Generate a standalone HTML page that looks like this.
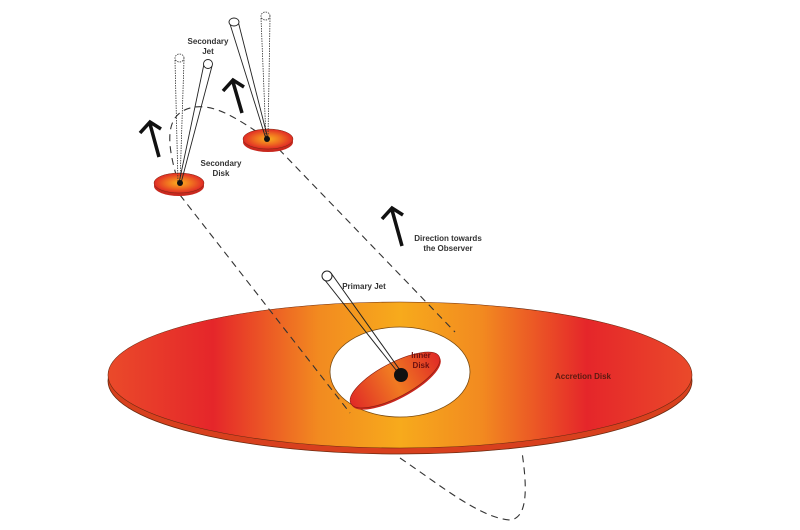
<!DOCTYPE html>
<html><head><meta charset="utf-8"><style>
body{margin:0;background:#fff}
svg{display:block}
text{font-family:"Liberation Sans",sans-serif;font-weight:bold;font-size:8px;fill:#333}
</style></head><body>
<svg width="800" height="530" viewBox="0 0 800 530" xmlns="http://www.w3.org/2000/svg">
<defs>
<linearGradient id="dg" x1="108" y1="0" x2="692" y2="0" gradientUnits="userSpaceOnUse">
<stop offset="0" stop-color="#ea4a2a"/>
<stop offset="0.18" stop-color="#e5262a"/>
<stop offset="0.36" stop-color="#f28a20"/>
<stop offset="0.5" stop-color="#f7aa1c"/>
<stop offset="0.64" stop-color="#f28a20"/>
<stop offset="0.82" stop-color="#e5262a"/>
<stop offset="1" stop-color="#ea4a2a"/>
</linearGradient>
<radialGradient id="sg" cx="0.5" cy="0.5" r="0.5">
<stop offset="0" stop-color="#f8b020"/>
<stop offset="0.5" stop-color="#f07020"/>
<stop offset="1" stop-color="#e02a26"/>
</radialGradient>
<linearGradient id="ig" x1="0" y1="0" x2="1" y2="0">
<stop offset="0" stop-color="#e02a26"/>
<stop offset="0.5" stop-color="#f07a22"/>
<stop offset="1" stop-color="#e02a26"/>
</linearGradient>
</defs>
<!-- accretion disk -->
<ellipse cx="400" cy="381" rx="292" ry="73" fill="#d8401e" stroke="#6a2a10" stroke-width="0.8"/>
<ellipse cx="400" cy="375" rx="292" ry="73" fill="url(#dg)" stroke="#6a2a10" stroke-width="0.6"/>
<ellipse cx="400" cy="372" rx="70" ry="45" fill="#fff" stroke="#7a4a10" stroke-width="0.8"/>
<!-- inner disk -->
<g transform="rotate(-28 395 380)">
<ellipse cx="395" cy="382" rx="50" ry="17" fill="#c8281e"/>
<ellipse cx="395" cy="380" rx="50" ry="17" fill="url(#ig)" stroke="#8a1a10" stroke-width="0.6"/>
</g>
<!-- orbit -->
<g fill="none" stroke="#333" stroke-width="1.1" stroke-dasharray="7,5">
<path d="M180,188 C168,150 160,112 195,107 C220,104 245,125 270,140 L455,332"/>
<path d="M180,195 L350,413"/>
<path d="M400,458 C440,485 480,518 510,520 C530,518 526,480 522,452"/>
</g>
<!-- primary jet -->
<line x1="324" y1="279" x2="400" y2="375" stroke="#222" stroke-width="1"/>
<line x1="331" y1="273" x2="402" y2="373" stroke="#222" stroke-width="1"/>
<circle cx="327" cy="276" r="5" fill="#fff" stroke="#222" stroke-width="1"/>
<circle cx="401" cy="375" r="7" fill="#111"/>
<!-- secondary disk 1 -->
<ellipse cx="179" cy="186" rx="25" ry="10" fill="#c8281e"/>
<ellipse cx="179" cy="183" rx="25" ry="10" fill="url(#sg)" stroke="#7a2a10" stroke-width="0.5"/>
<g stroke="#333" stroke-width="0.8" fill="none" stroke-dasharray="1.5,1">
<line x1="175" y1="60" x2="178" y2="183"/><line x1="184" y1="60" x2="180" y2="183"/>
<ellipse cx="179.5" cy="58" rx="4.5" ry="4"/>
</g>
<line x1="204" y1="64" x2="179" y2="183" stroke="#222" stroke-width="0.9"/>
<line x1="212" y1="66" x2="181" y2="183" stroke="#222" stroke-width="0.9"/>
<circle cx="208" cy="64" r="4.5" fill="#fff" stroke="#222" stroke-width="0.9"/>
<circle cx="180" cy="183" r="3" fill="#111"/>
<!-- secondary disk 2 -->
<ellipse cx="268" cy="142" rx="25" ry="10" fill="#c8281e"/>
<ellipse cx="268" cy="139" rx="25" ry="10" fill="url(#sg)" stroke="#7a2a10" stroke-width="0.5"/>
<g stroke="#333" stroke-width="0.8" fill="none" stroke-dasharray="1.5,1">
<line x1="261" y1="18" x2="266" y2="139"/><line x1="270" y1="18" x2="268" y2="139"/>
<ellipse cx="265.5" cy="16" rx="4.5" ry="4"/>
</g>
<line x1="230" y1="24" x2="266" y2="139" stroke="#222" stroke-width="0.9"/>
<line x1="238" y1="21" x2="268" y2="139" stroke="#222" stroke-width="0.9"/>
<ellipse cx="234" cy="22" rx="5" ry="4" fill="#fff" stroke="#222" stroke-width="0.9"/>
<circle cx="267" cy="139" r="3" fill="#111"/>
<!-- arrows -->
<g stroke="#111" stroke-width="3.5" fill="none" stroke-linecap="butt">
<path d="M159,157 L150,124 M140,133 L150,122 L161,129"/>
<path d="M242,113 L233,82 M223,91 L233,80 L244,87"/>
<path d="M402,246 L392,210 M382,219 L392,208 L403,215"/>
</g>
<!-- labels -->
<text x="208" y="44" text-anchor="middle">Secondary</text>
<text x="208" y="54" text-anchor="middle">Jet</text>
<text x="221" y="166" text-anchor="middle">Secondary</text>
<text x="221" y="176" text-anchor="middle">Disk</text>
<text x="448" y="241" text-anchor="middle">Direction towards</text>
<text x="448" y="251" text-anchor="middle">the Observer</text>
<text x="364" y="289" text-anchor="middle">Primary Jet</text>
<text x="421" y="358" text-anchor="middle" style="fill:#6a1010">Inner</text>
<text x="421" y="368" text-anchor="middle" style="fill:#6a1010">Disk</text>
<text x="583" y="379" text-anchor="middle" style="fill:#5a1a10">Accretion Disk</text>
</svg>
</body></html>
